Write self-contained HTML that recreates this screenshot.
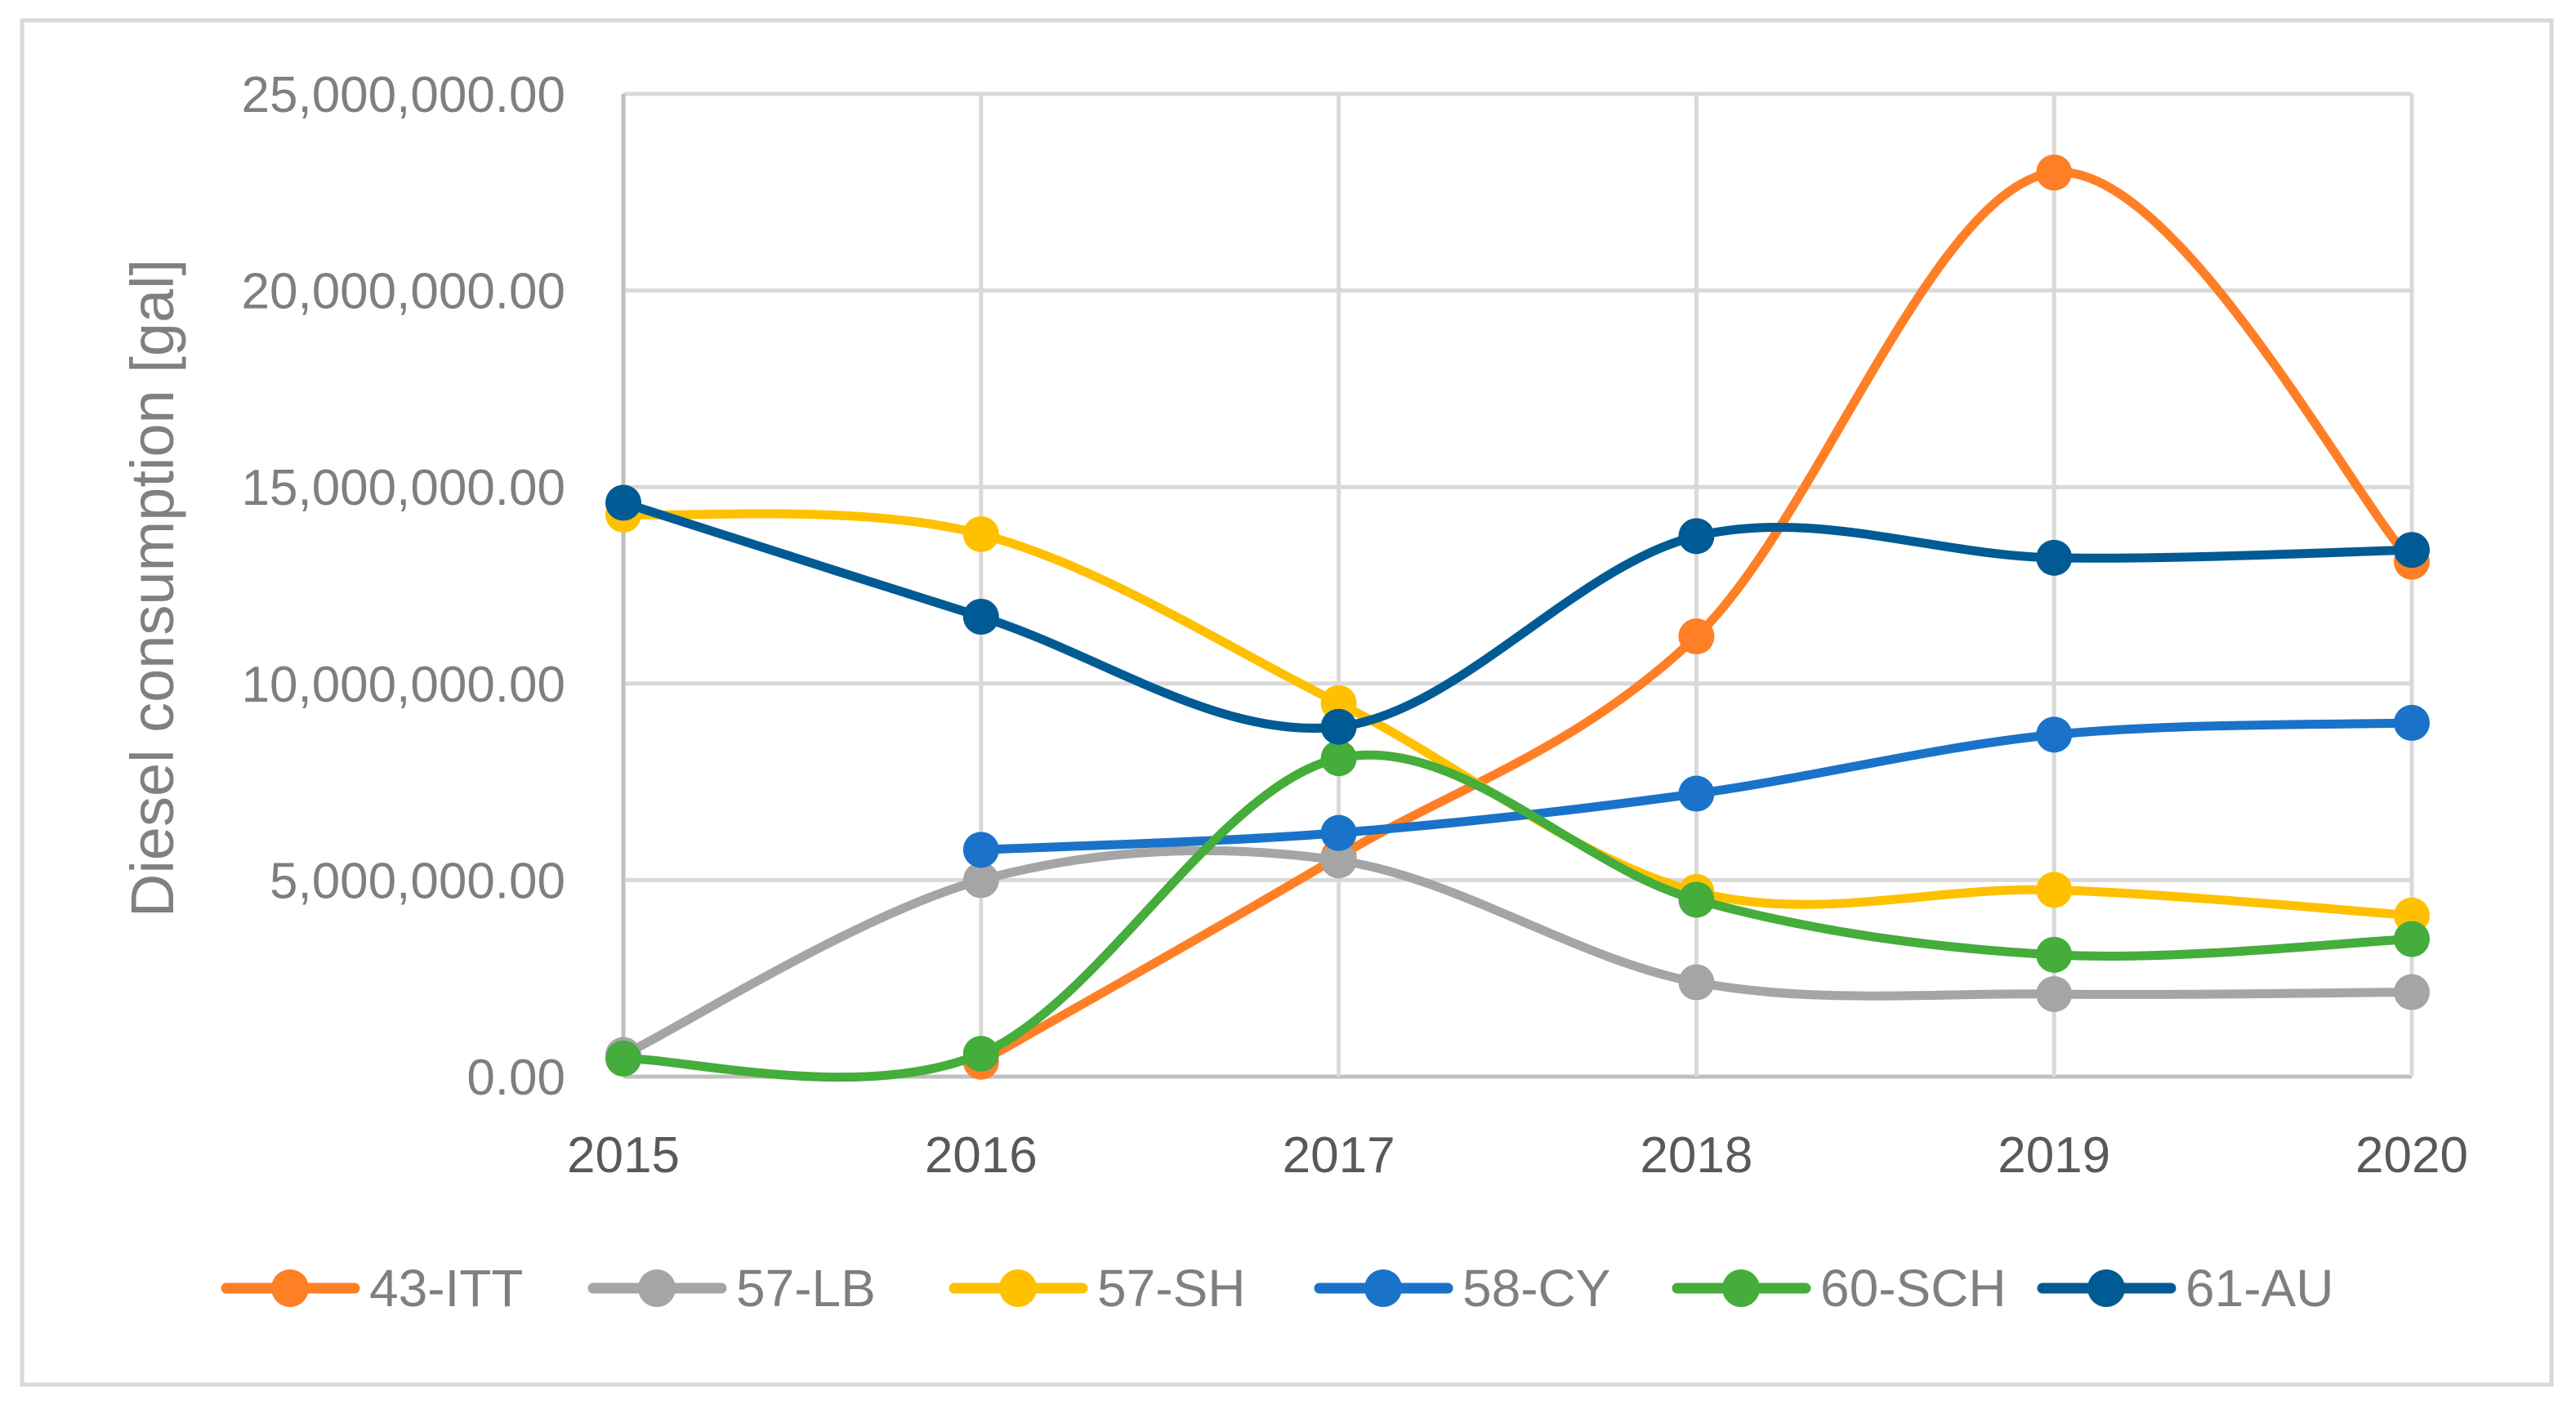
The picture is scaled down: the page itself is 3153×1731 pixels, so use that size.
<!DOCTYPE html>
<html><head><meta charset="utf-8"><style>
html,body{margin:0;padding:0;background:#fff;}
svg{display:block;}
text{font-family:"Liberation Sans",sans-serif;}
</style></head><body>
<svg id="chart" width="3153" height="1731" viewBox="0 0 3153 1731" xmlns="http://www.w3.org/2000/svg">
<rect x="27" y="25" width="3096" height="1670" fill="#fff" stroke="#d9d9d9" stroke-width="5"/>
<g id="grid"></g>
<g id="ylabels"></g>
<g id="xlabels"></g>
<text x="0" y="0" transform="translate(212,720) rotate(-90)" text-anchor="middle" font-size="74" fill="#808080">Diesel consumption [gal]</text>
<g id="series"></g>
<g id="legend"></g>
</svg>
<script>
const years = ["2015","2016","2017","2018","2019","2020"];
const yTicks = [0,5,10,15,20,25];
const yTickLabels = ["0.00","5,000,000.00","10,000,000.00","15,000,000.00","20,000,000.00","25,000,000.00"];
const seriesNames = ["43-ITT","57-LB","57-SH","58-CY","60-SCH","61-AU"];
const seriesColors = ["#FF7F27","#A5A5A5","#FFC000","#1A73C8","#44AD3B","#005B94"];
const s43ITT = [null,0.38,5.6,11.2,23.0,13.1];
const s57LB = [0.55,5.0,5.5,2.4,2.1,2.15];
const s57SH = [14.3,13.8,9.5,4.7,4.75,4.1];
const s58CY = [null,5.77,6.2,7.2,8.7,9.0];
const s60SCH = [0.46,0.58,8.1,4.5,3.1,3.5];
const s61AU = [14.6,11.7,8.9,13.75,13.2,13.4];
const seriesData = [s43ITT,s57LB,s57SH,s58CY,s60SCH,s61AU];

const NS="http://www.w3.org/2000/svg";
const L=763,R=2952,T=115,B=1318,YMAX=25;
const xs=i=>L+i*(R-L)/(years.length-1);
const ys=v=>B-v/YMAX*(B-T);
function mk(tag,attrs,parent){const e=document.createElementNS(NS,tag);for(const k in attrs)e.setAttribute(k,attrs[k]);parent.appendChild(e);return e;}
const grid=document.getElementById('grid');
yTicks.forEach((t,i)=>{
  const l=mk('line',{x1:L,x2:R,y1:ys(t),y2:ys(t),stroke:i==0?'#bfbfbf':'#d9d9d9','stroke-width':5},grid);
  
  
  const tx=mk('text',{x:692,y:ys(t)+22,'text-anchor':'end','font-size':62,fill:'#7f7f7f'},document.getElementById('ylabels'));
  tx.textContent=yTickLabels[i];
  
  
});
years.forEach((y,i)=>{
  const l=mk('line',{x1:xs(i),x2:xs(i),y1:T,y2:B,stroke:i==0?'#bfbfbf':'#d9d9d9','stroke-width':5},grid);
  
  
  const tx=mk('text',{x:xs(i),y:1435,'text-anchor':'middle','font-size':62,fill:'#595959'},document.getElementById('xlabels'));
  tx.textContent=y;
  
  
});
const sg=document.getElementById('series');
seriesData.forEach((d,si)=>{
  const pts=[];d.forEach((v,i)=>{if(v!==null)pts.push([xs(i),ys(v)]);});
  let p='M'+pts[0][0]+','+pts[0][1];
  for(let i=0;i<pts.length-1;i++){
    const p0=pts[Math.max(i-1,0)],p1=pts[i],p2=pts[i+1],p3=pts[Math.min(i+2,pts.length-1)];
    const c1=[p1[0]+(p2[0]-p0[0])/6,p1[1]+(p2[1]-p0[1])/6];
    const c2=[p2[0]-(p3[0]-p1[0])/6,p2[1]-(p3[1]-p1[1])/6];
    p+=` C${c1[0]},${c1[1]} ${c2[0]},${c2[1]} ${p2[0]},${p2[1]}`;
  }
  const g=mk('g',{},sg);
  
  
  const path=mk('path',{d:p,fill:'none',stroke:seriesColors[si],'stroke-width':11,'stroke-linecap':'round'},g);
  
  
  pts.forEach(q=>{
    const c=mk('circle',{cx:q[0],cy:q[1],r:22,fill:seriesColors[si]},g);
    
    
  });
});
const lg=document.getElementById('legend');
const legX=[271,720,1162,1609,2047,2494];
seriesNames.forEach((n,i)=>{
  const g=mk('g',{},lg);
  
  
  mk('line',{x1:legX[i]+6,x2:legX[i]+163,y1:1577,y2:1577,stroke:seriesColors[i],'stroke-width':13,'stroke-linecap':'round'},g);
  mk('circle',{cx:legX[i]+84,cy:1577,r:23,fill:seriesColors[i]},g);
  const t=mk('text',{x:legX[i]+181,y:1599,'font-size':64,fill:'#7f7f7f'},g);
  t.textContent=n;
});
</script>
</body></html>
